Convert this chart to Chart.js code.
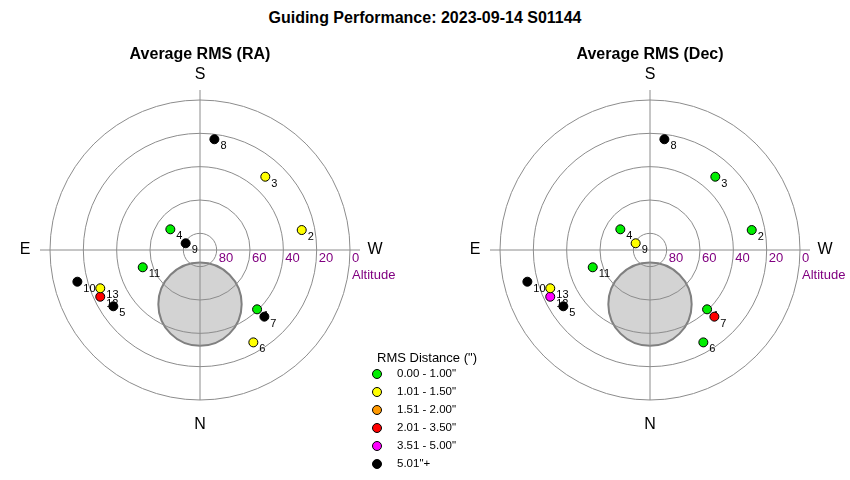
<!DOCTYPE html>
<html>
<head>
<meta charset="utf-8">
<script src="https://cdn.jsdelivr.net/npm/chart.js@4.4.0/dist/chart.umd.min.js"></script>
<style>
  body { margin: 0; background: #fff; width: 850px; height: 480px; overflow: hidden; position: relative; font-family: "Liberation Sans", Arial, sans-serif; }
  #title { position: absolute; top: 9px; left: 0; width: 850px; text-align: center; font-weight: bold; font-size: 16px; line-height: 18px; }
  #wrapRA { position: absolute; left: 0; top: 0; width: 500px; height: 480px; }
  #wrapDec { position: absolute; left: 450px; top: 0; width: 400px; height: 480px; }
</style>
</head>
<body>
<div id="title">Guiding Performance: 2023-09-14 S01144</div>
<div id="wrapRA"><canvas id="raChart" width="500" height="480"></canvas></div>
<div id="wrapDec"><canvas id="decChart" width="400" height="480"></canvas></div>
<script>
// guide star positions (azimuth 0 = N, 90 = E) and altitude in degrees
const pointIds = [1, 2, 3, 4, 5, 6, 7, 8, 9, 10, 11, 12, 13];
const azimuth = [316.1, 258.9, 221.7, 124.9, 57.0, 330.0, 316.0, 187.4, 115.1, 75.5, 73.2, 64.9, 69.0];
const altitude = [40.6, 27.8, 31.1, 68.3, 28.0, 26.0, 34.4, 23.0, 80.5, 14.0, 54.1, 23.9, 25.9];

// RMS class of each point (index into binLabels)
const raClass = [0, 1, 1, 0, 5, 1, 5, 5, 5, 5, 0, 3, 1];
const decClass = [0, 0, 0, 0, 5, 0, 3, 5, 1, 5, 0, 4, 1];

const binLabels = ['0.00 - 1.00"', '1.01 - 1.50"', '1.51 - 2.00"', '2.01 - 3.50"', '3.51 - 5.00"', '5.01"+'];
const binColors = ['#00ee00', '#ffff00', '#ff9900', '#ff0000', '#ff00ff', '#000000'];

const altitudeRings = [80, 60, 40, 20, 0];
const compassLabels = ['S', 'N', 'E', 'W'];
const compassAz = [180, 0, 90, 270];

// grey disc (az, alt, radius in degrees)
const discAz = 0;
const discAlt = 57.5;
const discRadius = 25;

const FONT = '"Liberation Sans", Arial, sans-serif';
Chart.defaults.font.family = FONT;

function toXY(az, alt) {
  const zd = 90 - alt;
  const a = az * Math.PI / 180;
  return { x: -zd * Math.sin(a), y: -zd * Math.cos(a) };
}

const polarGrid = {
  id: 'polarGrid',
  beforeDatasetsDraw(chart) {
    const { ctx } = chart;
    const x = chart.scales.x, y = chart.scales.y;
    const cx = x.getPixelForValue(0), cy = y.getPixelForValue(0);
    const px = (d) => x.getPixelForValue(d) - cx;
    ctx.save();

    // disc
    const d = toXY(discAz, discAlt);
    ctx.beginPath();
    ctx.arc(x.getPixelForValue(d.x), y.getPixelForValue(d.y), px(discRadius), 0, 2 * Math.PI);
    ctx.fillStyle = '#d3d3d3';
    ctx.fill();
    ctx.lineWidth = 2;
    ctx.strokeStyle = '#808080';
    ctx.stroke();

    // rings + axes
    ctx.lineWidth = 1;
    ctx.strokeStyle = '#8c8c8c';
    altitudeRings.forEach((a) => {
      ctx.beginPath();
      ctx.arc(cx, cy, px(90 - a), 0, 2 * Math.PI);
      ctx.stroke();
    });
    ctx.beginPath();
    ctx.moveTo(x.getPixelForValue(-96), cy);
    ctx.lineTo(x.getPixelForValue(96), cy);
    ctx.moveTo(cx, y.getPixelForValue(96));
    ctx.lineTo(cx, y.getPixelForValue(-90));
    ctx.stroke();

    // altitude labels
    ctx.fillStyle = '#800080';
    ctx.font = '13px ' + FONT;
    ctx.textAlign = 'left';
    ctx.textBaseline = 'middle';
    altitudeRings.forEach((a) => ctx.fillText(String(a), cx + px(90 - a) + 2, cy + 8));
    ctx.fillText('Altitude', cx + px(90) + 2, cy + 25);

    // compass
    ctx.fillStyle = '#000';
    ctx.font = '16px ' + FONT;
    ctx.textAlign = 'center';
    compassLabels.forEach((t, i) => {
      const p = toXY(compassAz[i], -15);
      ctx.fillText(t, x.getPixelForValue(p.x), y.getPixelForValue(p.y));
    });

    // point numbers (under the markers)
    const meta = chart.getDatasetMeta(0);
    ctx.font = '11px ' + FONT;
    ctx.textAlign = 'left';
    meta.data.forEach((el, i) => {
      ctx.fillText(String(pointIds[i]), el.x + 6, el.y + 7);
    });
    ctx.restore();
  },
  afterDraw(chart, args, opts) {
    if (!opts.legend) return;
    const { ctx } = chart;
    ctx.save();
    ctx.fillStyle = '#000';
    ctx.textBaseline = 'middle';
    ctx.textAlign = 'left';
    ctx.font = '13px ' + FONT;
    ctx.fillText('RMS Distance (")', 377, 358);
    ctx.font = '11.5px ' + FONT;
    binLabels.forEach((lab, i) => {
      const yy = 374 + i * 18;
      ctx.beginPath();
      ctx.arc(377, yy, 4.5, 0, 2 * Math.PI);
      ctx.fillStyle = binColors[i];
      ctx.fill();
      ctx.lineWidth = 1;
      ctx.strokeStyle = '#000';
      ctx.stroke();
      ctx.fillStyle = '#000';
      ctx.fillText(lab, 397, yy);
    });
    ctx.restore();
  }
};

function makeChart(id, title, classes, padRight, withLegend) {
  const pts = azimuth.map((az, i) => toXY(az, altitude[i]));
  return new Chart(document.getElementById(id), {
    type: 'scatter',
    data: {
      datasets: [{
        data: pts,
        backgroundColor: classes.map((c) => binColors[c]),
        borderColor: '#000',
        borderWidth: 1,
        pointRadius: 4.5,
        pointHoverRadius: 4.5
      }]
    },
    options: {
      responsive: false,
      animation: false,
      events: [],
      layout: { padding: { left: 20, right: padRight, top: 0, bottom: 50 } },
      scales: {
        x: { display: false, min: -108, max: 108 },
        y: { display: false, min: -108, max: 108 }
      },
      plugins: {
        legend: { display: false },
        tooltip: { enabled: false },
        title: {
          display: true,
          text: title,
          color: '#000',
          font: { size: 16, weight: 'bold', family: FONT },
          padding: { top: 45.4, bottom: 5.4 }
        },
        polarGrid: { legend: withLegend }
      }
    },
    plugins: [polarGrid]
  });
}

makeChart('raChart', 'Average RMS (RA)', raClass, 120, true);
makeChart('decChart', 'Average RMS (Dec)', decClass, 20, false);
</script>
</body>
</html>
